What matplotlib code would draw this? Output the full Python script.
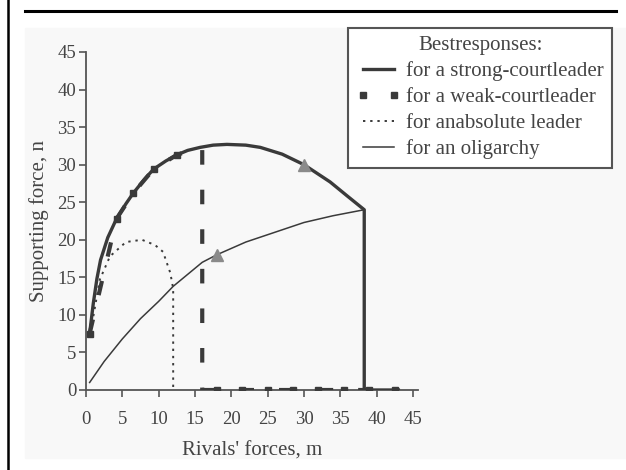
import matplotlib
matplotlib.use("Agg")
import matplotlib.pyplot as plt
from matplotlib.lines import Line2D
from matplotlib.patches import Rectangle

# best response of a strong court leader
strong_m = [0.5, 1.0, 1.5, 2.0, 3.0, 4.2, 5.5, 6.5, 8.0, 9.3, 11, 12.5, 14, 15.7, 17.5,
            19.4, 22, 24, 27, 30, 33.6, 36, 38.3, 38.3, 43]
strong_n = [7.5, 11.5, 14.8, 17.3, 20.3, 22.8, 24.8, 26.2, 28, 29.4, 30.5, 31.3, 31.9, 32.3, 32.6,
            32.7, 32.6, 32.3, 31.4, 30, 27.7, 25.8, 24, 0, 0]

# best response of a weak court leader
weak_m = [0.5, 4.2, 6.5, 9.3, 12.5, 16, 16, 18, 21.5, 25, 28.5, 32, 35.5, 39, 42.5]
weak_n = [7.5, 22.8, 26.2, 29.4, 31.3, 32.4, 0, 0, 0, 0, 0, 0, 0, 0, 0]

# best response of an absolute leader
abs_m = [0.5, 1.9, 3.3, 5.5, 7.7, 9.5, 10.6, 11.6, 12, 12]
abs_n = [7, 14.7, 17.8, 19.7, 20, 19.3, 18.4, 15.6, 13.5, 0]

# best response in an oligarchy
olig_m = [0.5, 2.5, 5, 7.5, 10, 12, 16, 18, 22, 26, 30, 34, 38.3]
olig_n = [1, 3.8, 6.8, 9.5, 11.8, 13.8, 17, 18, 19.7, 21, 22.3, 23.2, 24]

# highlighted equilibria
tri_m = [18, 30]
tri_n = [18, 30]

x_ticks = [0, 5, 10, 15, 20, 25, 30, 35, 40, 45]
y_ticks = [0, 5, 10, 15, 20, 25, 30, 35, 40, 45]

W, H = 626, 470
fig = plt.figure(figsize=(W / 100, H / 100), dpi=100)
fig.patch.set_facecolor("white")

# light scanned chart area, frame lines
fig.patches.append(Rectangle((25 / W, 1 - 458 / H), (W - 25) / W, (458 - 28) / H,
                             transform=fig.transFigure, color="#f8f8f8", zorder=-5))
fig.lines.append(Line2D([8 / W, 8 / W], [0, 1], transform=fig.transFigure, color="black", lw=1.8))
fig.lines.append(Line2D([25 / W, 616 / W], [1 - 11 / H, 1 - 11 / H], transform=fig.transFigure,
                        color="black", lw=2.2))

ax = fig.add_axes([86 / W, 1 - 390 / H, 332 / W, 338 / H])
ax.set_facecolor("none")
ax.set_zorder(2)

dark = "#3a3a3a"
ax.plot(olig_m, olig_n, color=dark, lw=1.1, zorder=2)
ax.plot(abs_m, abs_n, color=dark, lw=1.4, linestyle=(0, (1.2, 2.5)), zorder=2)
ax.plot(weak_m, weak_n, color=dark, lw=3, linestyle=(0, (3.5, 6)), zorder=3)
ax.plot(weak_m, weak_n, color=dark, lw=0, marker="s", markersize=4.5,
        markevery=[0, 1, 2, 3, 4, 7, 8, 9, 10, 11, 12, 13, 14], zorder=4)
ax.plot(strong_m, strong_n, color=dark, lw=2.4, zorder=3)
ax.plot(tri_m, tri_n, lw=0, marker="^", markersize=8, color="#8a8a8a", zorder=5)

ax.set_xlim(0, 45.7)
ax.set_ylim(0, 45)
ax.set_xticks(x_ticks)
ax.set_yticks(y_ticks)
for s in ["top", "right"]:
    ax.spines[s].set_visible(False)
for s in ["left", "bottom"]:
    ax.spines[s].set_color("#555555")
    ax.spines[s].set_linewidth(1.3)
ax.tick_params(direction="out", length=5, width=1.2, color="#555555",
               labelsize=13.5, labelcolor="#444444")
ax.tick_params(axis="x", pad=10)
ax.tick_params(axis="y", pad=2)
for lab in ax.get_xticklabels() + ax.get_yticklabels():
    lab.set_family("Liberation Serif")

ax.set_xlabel("Rivals' forces, m", fontsize=15, family="Liberation Serif", color="#444444", labelpad=10)
ax.set_ylabel("Supporting force, n", fontsize=15, family="Liberation Serif", color="#444444", labelpad=6)

handles = [
    Line2D([], [], color=dark, lw=2.4),
    Line2D([], [], color=dark, lw=0, marker="s", markersize=4.5),
    Line2D([], [], color=dark, lw=1.4, linestyle=(0, (1.2, 2.5))),
    Line2D([], [], color=dark, lw=1.1),
]
labels = ["for a strong-courtleader", "for a weak-courtleader",
          "for anabsolute leader", "for an oligarchy"]
leg = fig.legend(handles, labels, title="Bestresponses:", loc="upper left",
                 bbox_to_anchor=(348 / W, 1 - 28 / H), borderaxespad=0, numpoints=2,
                 handlelength=2.1, handletextpad=0.3, labelspacing=0.3, borderpad=0.4,
                 fancybox=False, edgecolor="#555555", framealpha=1, facecolor="white",
                 prop={"family": "Liberation Serif", "size": 15},
                 title_fontproperties={"family": "Liberation Serif", "size": 15})
leg.get_frame().set_linewidth(1.5)
leg.set_zorder(5)
for t in leg.get_texts():
    t.set_color("#444444")
leg.get_title().set_color("#444444")

fig.savefig("out.png", dpi=100)
